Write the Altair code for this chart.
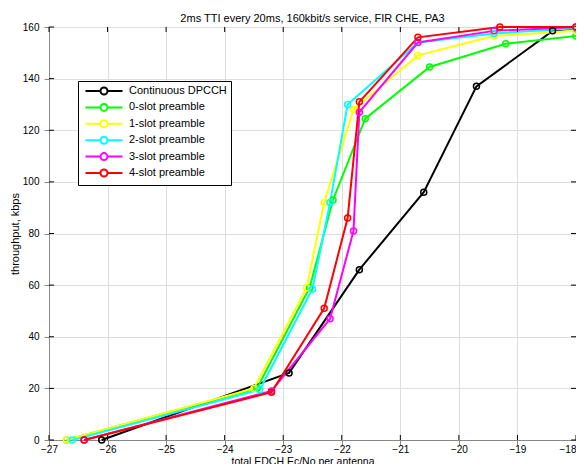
import altair as alt
import pandas as pd

series_names = ["Continuous DPCCH", "0-slot preamble", "1-slot preamble",
                "2-slot preamble", "3-slot preamble", "4-slot preamble"]
series_colors = ["#000000", "#00ff00", "#ffff00", "#00ffff", "#ff00ff", "#ff0000"]

black_x = [-26.1, -22.9, -21.7, -20.6, -19.7, -18.4, -18.0]
black_y = [0, 26, 66, 96, 137, 158.5, 159.5]

green_x = [-26.7, -23.45, -22.55, -22.15, -21.6, -20.5, -19.2, -18.0]
green_y = [0, 20, 59, 93, 124.5, 144.5, 153.5, 156.5]

yellow_x = [-26.7, -23.5, -22.6, -22.3, -21.8, -20.7, -19.4, -18.0]
yellow_y = [0, 20, 59, 92, 128, 149, 156.5, 158.5]

cyan_x = [-26.6, -23.4, -22.5, -22.2, -21.9, -20.7, -19.4, -18.0]
cyan_y = [0, 19.5, 58.5, 92, 130, 154, 157.5, 159.5]

magenta_x = [-26.4, -23.2, -22.2, -21.8, -21.7, -20.7, -19.4, -18.0]
magenta_y = [0, 19, 47, 81, 127, 154, 158.5, 160]

red_x = [-26.4, -23.2, -22.3, -21.9, -21.7, -20.7, -19.3, -18.0]
red_y = [0, 18.5, 51, 86, 131, 156, 160, 160]

x_ticks = [-27, -26, -25, -24, -23, -22, -21, -20, -19, -18]
y_ticks = [0, 20, 40, 60, 80, 100, 120, 140, 160]

all_x = [black_x, green_x, yellow_x, cyan_x, magenta_x, red_x]
all_y = [black_y, green_y, yellow_y, cyan_y, magenta_y, red_y]

rows = []
for si, (name, xs, ys) in enumerate(zip(series_names, all_x, all_y)):
    for i, (xv, yv) in enumerate(zip(xs, ys)):
        rows.append({"series": name, "sidx": si, "idx": i, "x": xv, "y": yv})
df = pd.DataFrame(rows)
xt_df = pd.DataFrame({"x": x_ticks})
yt_df = pd.DataFrame({"y": y_ticks})

W, H = 527, 413
TICK = 5
FONT = "Liberation Sans"

color_scale = alt.Scale(domain=series_names, range=series_colors)
x_scale = alt.Scale(domain=[-27, -18], nice=False, zero=False)
y_scale = alt.Scale(domain=[0, 160], nice=False)

x_enc = alt.X("x:Q", scale=x_scale,
              axis=alt.Axis(values=x_ticks, format="d", title="total EDCH Ec/No per antenna",
                            titleX=182, titleY=24, titleAlign="left", titleFontSize=10.5,
                            titleBaseline="alphabetic", titleFontWeight="normal",
                            labelFlush=False, labelPadding=-1,
                            labelAlign=alt.condition("datum.value == -18",
                                                     alt.value("right"), alt.value("center"))))
y_enc = alt.Y("y:Q", scale=y_scale,
              axis=alt.Axis(values=y_ticks, format="d", title="throughput, kbps",
                            labelPadding=5, titlePadding=2, titleFontWeight="normal"))

# legend glyph: a short line with an open circle in the middle
legend_path = ("M-4,0H-0.757M0.757,0H4M-0.757,0A0.757,0.757 0 1,0 0.757,0"
               "A0.757,0.757 0 1,0 -0.757,0")

base = alt.Chart(df)

# inward tick marks on all four sides of the box
xt_top = alt.Chart(xt_df).mark_rule(color="black", strokeWidth=1).encode(
    x=alt.X("x:Q", scale=x_scale), y=alt.value(0), y2=alt.value(TICK))
xt_bot = alt.Chart(xt_df).mark_rule(color="black", strokeWidth=1).encode(
    x=alt.X("x:Q", scale=x_scale), y=alt.value(H), y2=alt.value(H - TICK))
yt_left = alt.Chart(yt_df).mark_rule(color="black", strokeWidth=1).encode(
    y=alt.Y("y:Q", scale=y_scale), x=alt.value(0), x2=alt.value(TICK))
yt_right = alt.Chart(yt_df).mark_rule(color="black", strokeWidth=1).encode(
    y=alt.Y("y:Q", scale=y_scale), x=alt.value(W), x2=alt.value(W - TICK))

lines = base.mark_line(strokeWidth=2).encode(
    x=x_enc, y=y_enc,
    color=alt.Color("series:N", scale=color_scale,
                    legend=alt.Legend(title=None, orient="none", legendX=29, legendY=54,
                                      symbolType=legend_path, symbolSize=85.6,
                                      symbolOffset=16,
                                      symbolStrokeWidth=2, labelFontSize=11,
                                      labelFont=FONT, labelColor="black",
                                      strokeColor="black", fillColor="white",
                                      padding=4, rowPadding=0.4, labelOffset=19,
                                      cornerRadius=0)),
    strokeWidth=alt.condition(alt.datum.series == "Continuous DPCCH", alt.value(1.5), alt.value(2)),
    detail="sidx:O",
    order="idx:Q",
)

points = base.mark_point(shape="circle", filled=False, size=36, strokeWidth=1.5, opacity=1).encode(
    x="x:Q", y="y:Q",
    color=alt.Color("series:N", scale=color_scale, legend=None),
)

chart = alt.layer(lines, xt_top, xt_bot, yt_left, yt_right, points).properties(
    width=W, height=H,
    padding={"left": 41, "top": 19, "right": 0, "bottom": 24},
    autosize=alt.AutoSizeParams(type="none"),
    title=alt.TitleParams("2ms TTI every 20ms, 160kbit/s service, FIR CHE, PA3",
                          fontSize=11, font=FONT, fontWeight="normal", color="black",
                          anchor="middle", offset=-3),
).configure_view(stroke="black", strokeWidth=1).configure_axis(
    grid=True, gridColor="black", gridDash=[1, 3], gridOpacity=0.7, gridWidth=1,
    domain=False, ticks=False,
    labelFont=FONT, labelFontSize=11, labelColor="black",
    titleFont=FONT, titleFontSize=11, titleColor="black", titleFontWeight="normal",
).configure(background="white")

chart.save("out.html", embed_options={"renderer": "svg", "actions": False})
